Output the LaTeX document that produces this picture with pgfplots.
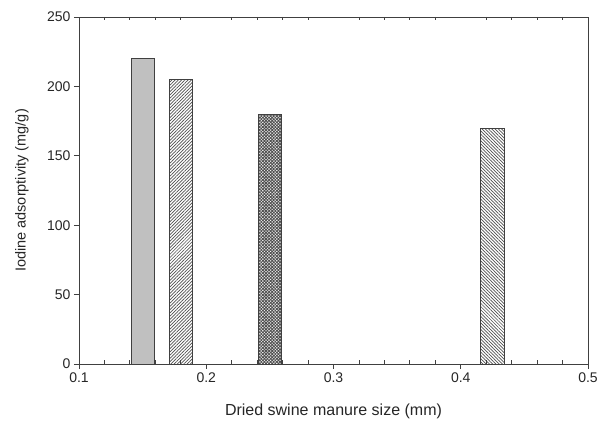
\documentclass[border=0pt]{standalone}
\usepackage{fontspec}
\setmainfont{Liberation Sans}
\usepackage{pgfplots}
\pgfplotsset{compat=1.18}
\usetikzlibrary{patterns,patterns.meta,calc}

\definecolor{axisgray}{HTML}{404040}
\definecolor{barfill}{HTML}{C0C0C0}
\definecolor{hatch}{HTML}{505050}

\begin{document}
\begin{tikzpicture}
% main axis: frame, major ticks, labels, bars
\begin{axis}[
    name=a,
    scale only axis,
    width=509pt, height=347pt,
    xmin=0.1, xmax=0.5,
    ymin=0, ymax=250,
    xtick={0.1,0.2,0.3,0.4,0.5},
    ytick={0,50,100,150,200,250},
    xticklabels={0.1,0.2,0.3,0.4,0.5},
    xtick pos=bottom, ytick pos=left,
    tick align=outside,
    major tick length=5pt,
    tick style={axisgray, line width=0.8pt},
    axis line style={axisgray, line width=0.9pt},
    /pgf/number format/assume math mode=true,
    tick label style={font=\fontsize{14}{16}\selectfont, text=black!85},
    xlabel={Dried swine manure size (mm)},
    ylabel={Iodine adsorptivity (mg/g)},
    xlabel style={font=\fontsize{16}{18}\selectfont, text=black!85,
        at={(axis description cs:0.5,0)}, anchor=center, yshift=-47pt},
    ylabel style={font=\fontsize{14.5}{17}\selectfont, text=black!85,
        at={(axis description cs:0,0.5)}, anchor=center, yshift=57pt},
    ybar, bar width=0.0185,
    bar shift=0pt,
]
\addplot[draw=axisgray, line width=0.7pt, fill=barfill] coordinates {(0.15,220)};
\addplot[draw=axisgray, line width=0.7pt, fill=white,
    postaction={pattern={Lines[angle=45,distance=2.3pt,line width=0.7pt]}, pattern color=hatch}]
    coordinates {(0.18,205)};
\addplot[draw=axisgray, line width=0.7pt, fill=white,
    postaction={pattern={Hatch[angle=45,distance=2.2pt,line width=0.9pt]}, pattern color=hatch}]
    coordinates {(0.25,180)};
\addplot[draw=axisgray, line width=0.7pt, fill=white,
    postaction={pattern={Lines[angle=-45,distance=2.3pt,line width=0.7pt]}, pattern color=hatch}]
    coordinates {(0.425,170)};
\end{axis}
% overlay axis: inward minor ticks on top and bottom
\begin{axis}[
    at={(a.south west)}, anchor=south west,
    scale only axis,
    width=509pt, height=347pt,
    xmin=0.1, xmax=0.5,
    ymin=0, ymax=250,
    xtick={0.1,0.2,0.3,0.4,0.5}, xticklabels={},
    ytick=\empty,
    minor xtick={0.12,0.14,0.16,0.18,0.22,0.24,0.26,0.28,0.32,0.34,0.36,0.38,0.42,0.44,0.46,0.48},
    xtick pos=both,
    tick align=inside,
    major tick length=0pt,
    minor tick length=3.5pt,
    tick style={axisgray, line width=0.8pt},
    axis line style={draw=none},
]
\end{axis}
\pgfresetboundingbox
\path ($(a.south west)+(-79pt,-57pt)$) rectangle ($(a.north east)+(17pt,17pt)$);
\end{tikzpicture}
\end{document}
